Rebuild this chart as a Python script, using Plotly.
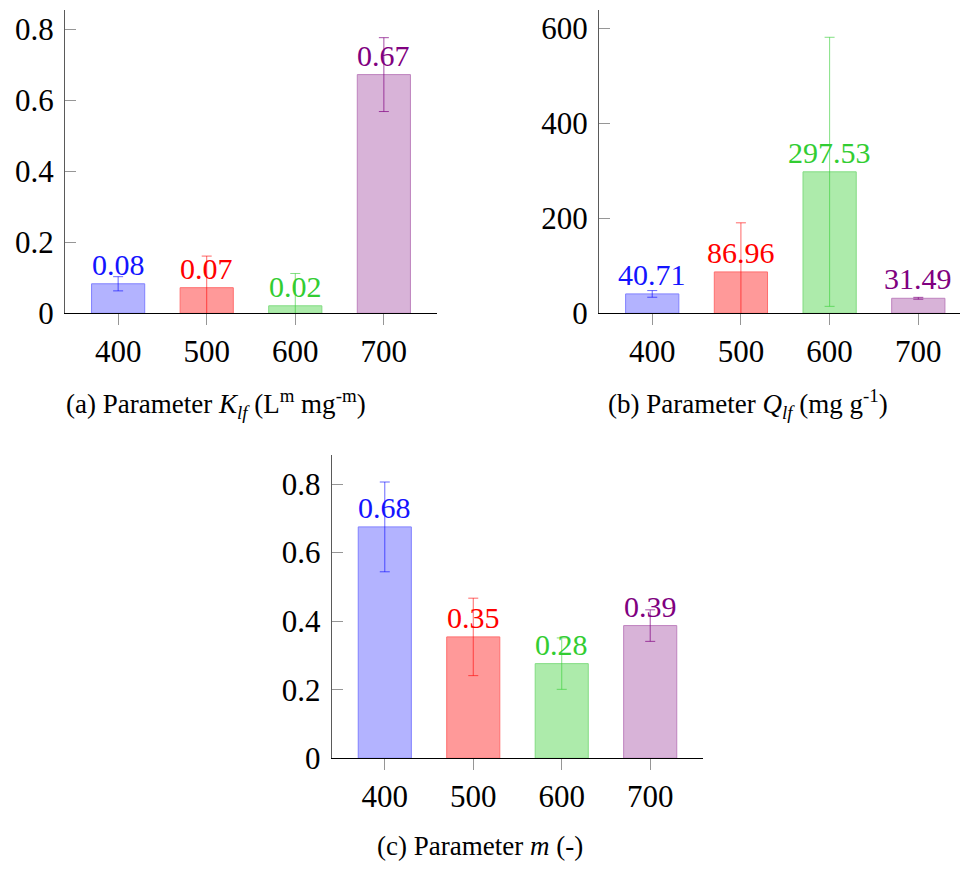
import plotly.graph_objects as go

categories = ["400", "500", "600", "700"]

k_values = [0.083, 0.072, 0.021, 0.672]
k_labels = ["0.08", "0.07", "0.02", "0.67"]
k_errors = [0.020, 0.089, 0.091, 0.104]

q_values = [40.71, 86.96, 297.53, 31.49]
q_labels = ["40.71", "86.96", "297.53", "31.49"]
q_errors = [7.0, 103.3, 283.0, 2.0]

m_values = [0.675, 0.354, 0.276, 0.387]
m_labels = ["0.68", "0.35", "0.28", "0.39"]
m_errors = [0.131, 0.113, 0.075, 0.046]

fill_colors = ["rgb(179,179,255)", "rgb(255,153,153)", "rgb(173,235,171)", "rgb(216,179,216)"]
edge_colors = ["rgb(128,128,255)", "rgb(255,110,110)", "rgb(130,220,130)", "rgb(190,130,190)"]
text_colors = ["rgb(20,20,255)", "rgb(255,0,0)", "rgb(50,205,50)", "rgb(128,0,128)"]
err_colors = ["rgba(0,0,255,0.6)", "rgba(255,0,0,0.6)", "rgba(50,205,50,0.6)", "rgba(128,0,128,0.7)"]

W, H = 960, 869
HREF = 853  # vertical reference frame used for placing domains
FONT = "Liberation Serif, Times New Roman, serif"

panels = [
    dict(vals=k_values, labels=k_labels, errs=k_errors, xd=(65, 437), yd=(10, 314),
         xr=(-0.6, 3.6), yr=(0, 0.854), ticks=[0, 0.2, 0.4, 0.6, 0.8],
         tickt=["0", "0.2", "0.4", "0.6", "0.8"]),
    dict(vals=q_values, labels=q_labels, errs=q_errors, xd=(599, 960), yd=(10, 314),
         xr=(-0.6, 3.47), yr=(0, 638), ticks=[0, 200, 400, 600],
         tickt=["0", "200", "400", "600"]),
    dict(vals=m_values, labels=m_labels, errs=m_errors, xd=(331.7, 703.3), yd=(456, 760),
         xr=(-0.6, 3.6), yr=(0, 0.885), ticks=[0, 0.2, 0.4, 0.6, 0.8],
         tickt=["0", "0.2", "0.4", "0.6", "0.8"]),
]

fig = go.Figure()
annotations = []
layout = {}
xs = list(range(len(categories)))

for p_i, p in enumerate(panels):
    sfx = "" if p_i == 0 else str(p_i + 1)
    xa, ya = "x" + sfx, "y" + sfx
    for i in xs:
        fig.add_trace(go.Bar(
            x=[i], y=[p["vals"][i]], width=0.6,
            marker=dict(color=fill_colors[i], line=dict(color=edge_colors[i], width=1)),
            error_y=dict(type="data", array=[p["errs"][i]], color=err_colors[i],
                         thickness=1, width=5),
            xaxis=xa, yaxis=ya, showlegend=False, hoverinfo="skip",
        ))
        annotations.append(dict(
            x=i, y=p["vals"][i], xref=xa, yref=ya, text=p["labels"][i],
            showarrow=False, yanchor="bottom", xanchor="center", yshift=1,
            font=dict(family=FONT, size=30, color=text_colors[i]),
        ))
    layout["xaxis" + sfx] = dict(
        domain=[p["xd"][0] / W, p["xd"][1] / W], range=list(p["xr"]), anchor=ya,
        tickvals=xs, ticktext=categories, ticks="outside", ticklen=11,
        tickcolor="rgb(150,150,150)", tickwidth=1, showline=True, linecolor="black",
        linewidth=1, showgrid=False, zeroline=False, fixedrange=True,
        tickfont=dict(family=FONT, size=31, color="black"),
    )
    layout["yaxis" + sfx] = dict(
        domain=[1 - p["yd"][1] / HREF, 1 - p["yd"][0] / HREF], range=list(p["yr"]), anchor=xa,
        tickvals=p["ticks"], ticktext=p["tickt"], ticks="inside", ticklen=11,
        tickcolor="rgb(150,150,150)", tickwidth=1, showline=True,
        linecolor="rgb(90,90,90)", linewidth=1, showgrid=False, zeroline=False,
        ticklabelstandoff=4, fixedrange=True,
        tickfont=dict(family=FONT, size=31, color="black"),
    )

captions = [
    ("(a) Parameter <i>K</i><sub><i>lf</i></sub> (L<sup>m</sup> mg<sup>-m</sup>)", 216, 405),
    ("(b) Parameter <i>Q</i><sub><i>lf</i></sub> (mg g<sup>-1</sup>)", 748, 405),
    ("(c) Parameter <i>m</i> (-)", 480, 848),
]
for txt, cx, cy in captions:
    annotations.append(dict(
        x=cx / W, y=1 - cy / HREF, xref="paper", yref="paper", text=txt, showarrow=False,
        xanchor="center", yanchor="middle",
        font=dict(family=FONT, size=27, color="black"),
    ))

fig.update_layout(
    width=W, height=H, margin=dict(l=0, r=0, t=0, b=0),
    paper_bgcolor="white", plot_bgcolor="white", barmode="overlay",
    annotations=annotations, **layout,
)

fig.write_html("out.html")
